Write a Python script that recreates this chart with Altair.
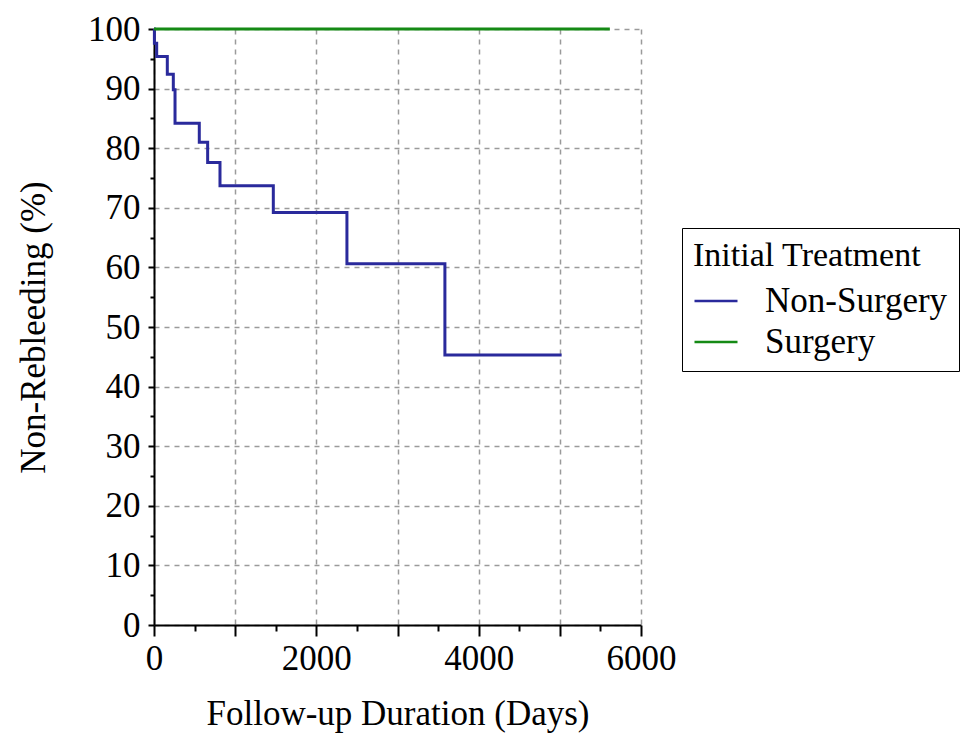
import altair as alt
import pandas as pd

groups = ["Non-Surgery", "Surgery"]
colors = ["#2a2a9c", "#158a15"]

ns_days = [0, 5, 33, 164, 238, 259, 558, 661, 813, 1470, 2377, 3584, 5022]
ns_surv = [100, 97.6, 95.4, 92.4, 89.8, 84.2, 81.0, 77.6, 73.7, 69.2, 60.6, 45.3, 45.3]
s_days = [0, 5616]
s_surv = [100, 100]

x_major = [0, 1000, 2000, 3000, 4000, 5000, 6000]
x_minor = [500, 1500, 2500, 3500, 4500, 5500]
y_major = [0, 10, 20, 30, 40, 50, 60, 70, 80, 90, 100]
y_minor = [5, 15, 25, 35, 45, 55, 65, 75, 85, 95]

rows = []
for d, s in zip(ns_days, ns_surv):
    rows.append({"group": groups[0], "day": d, "surv": s})
for d, s in zip(s_days, s_surv):
    rows.append({"group": groups[1], "day": d, "surv": s})
df = pd.DataFrame(rows)

FONT = "Liberation Serif"
xscale = alt.Scale(domain=[0, 6000], nice=False)
yscale = alt.Scale(domain=[0, 100], nice=False)

base = alt.Chart(df)

main = base.mark_line(interpolate="step-after", strokeWidth=3).encode(
    x=alt.X("day:Q", scale=xscale, axis=alt.Axis(
        orient="bottom", values=x_major,
        labelExpr="datum.value % 2000 == 0 ? format(datum.value, 'd') : ''",
        title="Follow-up Duration (Days)", tickSize=11, labelPadding=5,
        titlePadding=20, grid=True, gridDash=[5, 5], gridColor="#9a9a9a",
        gridWidth=1.5, labelFlush=False, labelOverlap=False)),
    y=alt.Y("surv:Q", scale=yscale, axis=alt.Axis(
        orient="left", values=y_major, format="d",
        title="Non-Rebleeding (%)", tickSize=6, labelPadding=8,
        titlePadding=36, grid=True, gridDash=[5, 5], gridColor="#9a9a9a",
        gridWidth=1.5, labelOverlap=False)),
    color=alt.Color("group:N", scale=alt.Scale(domain=groups, range=colors),
                    legend=alt.Legend(
                        title="Initial Treatment", orient="none",
                        legendX=528, legendY=199, strokeColor="black",
                        fillColor="white", padding=11, symbolType="stroke",
                        symbolSize=1850, symbolStrokeWidth=2.5,
                        labelFont=FONT, labelFontSize=35, labelColor="black",
                        titleFont=FONT, titleFontSize=34, titleFontWeight="normal",
                        titleColor="black", rowPadding=0, labelOffset=26,
                        titlePadding=5, titleLimit=400, labelLimit=400)),
)

minor = base.mark_line(opacity=0).encode(
    x=alt.X("day:Q", scale=xscale, axis=alt.Axis(
        orient="bottom", values=x_minor, labels=False, domain=False,
        grid=False, title=None, tickSize=6)),
    y=alt.Y("surv:Q", scale=yscale, axis=alt.Axis(
        orient="left", values=y_minor, labels=False, domain=False,
        grid=False, title=None, tickSize=4)),
    detail="group:N",
)

chart = alt.layer(main, minor).resolve_axis(
    x="independent", y="independent"
).properties(
    width=487, height=596,
    autosize=alt.AutoSizeParams(type="none"),
    padding={"left": 146, "top": 21, "right": 320, "bottom": 108},
).configure_view(stroke=None).configure_axis(
    domainColor="black", domainWidth=2, tickColor="black", tickWidth=2,
    labelFont=FONT, labelFontSize=35, labelColor="black",
    titleFont=FONT, titleFontSize=35, titleFontWeight="normal", titleColor="black",
)

chart.save("out.html", embed_options={"renderer": "svg", "actions": False})
